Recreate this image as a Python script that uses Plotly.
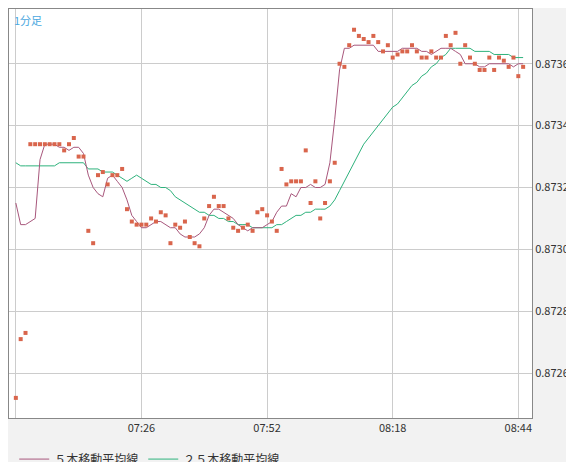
import pandas as pd
import plotly.graph_objects as go

start = pd.Timestamp("2024-01-01 07:00")

price = [0.87252, 0.87271, 0.87273,
         0.87334, 0.87334, 0.87334, 0.87334, 0.87334, 0.87334, 0.87334, 0.87332, 0.87334, 0.87336,
         0.87330, 0.87330, 0.87306, 0.87302, 0.87324, 0.87325, 0.87321, 0.87324, 0.87324, 0.87326,
         0.87313, 0.87309, 0.87308, 0.87308, 0.87308, 0.87310, 0.87309, 0.87312, 0.87311, 0.87302,
         0.87308, 0.87307, 0.87309, 0.87304, 0.87302, 0.87301, 0.87310, 0.87314, 0.87317, 0.87314,
         0.87314, 0.87310, 0.87307, 0.87306, 0.87307, 0.87308, 0.87306, 0.87312, 0.87313, 0.87311,
         0.87309, 0.87306, 0.87326, 0.87321, 0.87322, 0.87322, 0.87322, 0.87332, 0.87315, 0.87322,
         0.87310, 0.87315, 0.87322, 0.87328, 0.87360, 0.87359, 0.87366, 0.87371, 0.87369, 0.87368,
         0.87367, 0.87369, 0.87367, 0.87364, 0.87366, 0.87362, 0.87363, 0.87364, 0.87364, 0.87366,
         0.87364, 0.87362, 0.87362, 0.87364, 0.87362, 0.87362, 0.87369, 0.87366, 0.87370, 0.87360,
         0.87366, 0.87362, 0.87360, 0.87358, 0.87358, 0.87362, 0.87358, 0.87362, 0.87361, 0.87359,
         0.87362, 0.87356, 0.87359]

ma5 = [0.87315, 0.87308, 0.87308, 0.87309, 0.87310, 0.87329, 0.87334, 0.87334, 0.87334, 0.87333,
       0.87333, 0.87332, 0.87333, 0.87333, 0.87331, 0.87324, 0.87320, 0.87318, 0.87317, 0.87323,
       0.87324, 0.87322, 0.87320, 0.87316, 0.87311, 0.87309, 0.87307, 0.87307, 0.87308, 0.87309,
       0.87309, 0.87308, 0.87307, 0.87307, 0.87305, 0.87304, 0.87304, 0.87304, 0.87305, 0.87307,
       0.87311, 0.87313, 0.87313, 0.87312, 0.87311, 0.87310, 0.87308, 0.87307, 0.87306, 0.87307,
       0.87307, 0.87307, 0.87308, 0.87309, 0.87312, 0.87314, 0.87314, 0.87318, 0.87317, 0.87320,
       0.87320, 0.87321, 0.87320, 0.87320, 0.87321, 0.87328, 0.87342, 0.87358, 0.87365, 0.87365,
       0.87366, 0.87366, 0.87366, 0.87366, 0.87366, 0.87364, 0.87364, 0.87364, 0.87364, 0.87364,
       0.87365, 0.87365, 0.87365, 0.87365, 0.87364, 0.87364, 0.87363, 0.87364, 0.87365, 0.87365,
       0.87365, 0.87364, 0.87363, 0.87360, 0.87360, 0.87360, 0.87359, 0.87359, 0.87360, 0.87360,
       0.87360, 0.87360, 0.87360, 0.87359, 0.87360, 0.87360]

ma25 = [0.87328, 0.87327, 0.87327, 0.87327, 0.87327, 0.87327, 0.87327, 0.87327, 0.87327, 0.87328,
        0.87328, 0.87328, 0.87328, 0.87328, 0.87328, 0.87326, 0.87326, 0.87326, 0.87325, 0.87325,
        0.87325, 0.87324, 0.87323, 0.87322, 0.87323, 0.87324, 0.87323, 0.87322, 0.87321, 0.87321,
        0.87320, 0.87320, 0.87319, 0.87317, 0.87316, 0.87315, 0.87314, 0.87313, 0.87312, 0.87312,
        0.87311, 0.87311, 0.87310, 0.87310, 0.87309, 0.87309, 0.87308, 0.87308, 0.87308, 0.87307,
        0.87307, 0.87307, 0.87307, 0.87307, 0.87308, 0.87308, 0.87309, 0.87310, 0.87311, 0.87311,
        0.87312, 0.87312, 0.87313, 0.87313, 0.87313, 0.87314, 0.87316, 0.87319, 0.87322, 0.87325,
        0.87328, 0.87331, 0.87334, 0.87336, 0.87338, 0.87340, 0.87342, 0.87344, 0.87346, 0.87347,
        0.87349, 0.87351, 0.87353, 0.87354, 0.87356, 0.87357, 0.87359, 0.87360, 0.87362, 0.87363,
        0.87365, 0.87365, 0.87365, 0.87365, 0.87365, 0.87364, 0.87364, 0.87364, 0.87364, 0.87363,
        0.87363, 0.87363, 0.87363, 0.87362, 0.87362, 0.87362]

times = pd.date_range(start, periods=len(price), freq="1min")
tick_times = pd.to_datetime(["2024-01-01 07:00", "2024-01-01 07:26", "2024-01-01 07:52",
                             "2024-01-01 08:18", "2024-01-01 08:44"])
tick_text = ["", "07:26", "07:52", "08:18", "08:44"]
y_ticks = [0.8726, 0.8728, 0.8730, 0.8732, 0.8734, 0.8736]
y_text = ["0.8726", "0.8728", "0.8730", "0.8732", "0.8734", "0.8736"]

fig = go.Figure()
fig.add_trace(go.Scatter(x=times, y=ma25, mode="lines", line=dict(color="#2eb27c", width=1),
                         name="２５本移動平均線"))
fig.add_trace(go.Scatter(x=times, y=ma5, mode="lines", line=dict(color="#a8577c", width=1),
                         name="５本移動平均線"))
fig.add_trace(go.Scatter(x=times, y=price, mode="markers", showlegend=False,
                         marker=dict(symbol="square", size=4, color="#d9654c")))

fig.update_layout(
    width=574, height=462,
    margin=dict(l=1, r=50, t=1, b=52, autoexpand=False),
    paper_bgcolor="#f2f2f2", plot_bgcolor="white",
    font=dict(family="Noto Sans CJK JP", size=11, color="#333"),
    showlegend=True,
    legend=dict(orientation="h", x=0.01, y=-0.065, yanchor="top", traceorder="reversed",
                font=dict(size=12, color="#333"), bgcolor="rgba(0,0,0,0)"),
    annotations=[dict(text="1分足", x=0.005, y=0.998, xref="paper", yref="paper",
                      xanchor="left", yanchor="top", showarrow=False,
                      font=dict(size=11, color="#4aa8e0"))],
)
fig.update_xaxes(range=[start - pd.Timedelta(seconds=85), start + pd.Timedelta(seconds=6410)],
                 tickvals=tick_times, ticktext=tick_text, showgrid=True, gridcolor="#cccccc",
                 zeroline=False, showline=True, linecolor="#888", mirror=True,
                 ticks="", automargin=False)
fig.update_yaxes(range=[0.872455, 0.873777], side="right", tickvals=y_ticks, ticktext=y_text,
                 showgrid=True, gridcolor="#cccccc", zeroline=False,
                 showline=True, linecolor="#888", mirror=True, ticks="", automargin=False)

fig.write_html("out.html")
